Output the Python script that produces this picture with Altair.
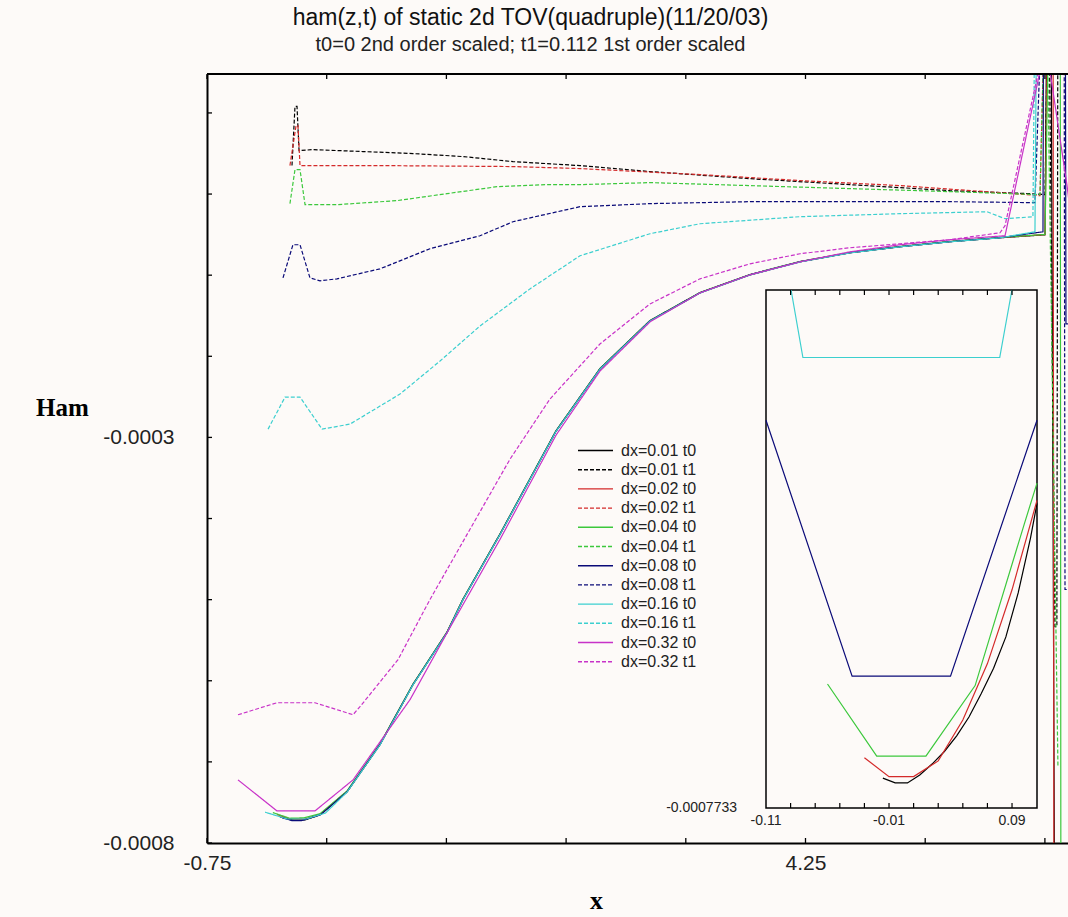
import altair as alt
import pandas as pd

TITLE = "ham(z,t) of static 2d TOV(quadruple)(11/20/03)"
SUBTITLE = "t0=0 2nd order scaled; t1=0.112 1st order scaled"
E4 = 1e-4  # y values below are given in units of 1e-4

series_names = ["dx=0.01 t0", "dx=0.01 t1", "dx=0.02 t0", "dx=0.02 t1",
                "dx=0.04 t0", "dx=0.04 t1", "dx=0.08 t0", "dx=0.08 t1",
                "dx=0.16 t0", "dx=0.16 t1", "dx=0.32 t0", "dx=0.32 t1"]
series_colors = ["#000000", "#000000", "#d42a2a", "#d42a2a", "#3cc83c", "#3cc83c",
                 "#0a0a78", "#0a0a78", "#3ccfcf", "#3ccfcf", "#c832c8", "#c832c8"]
series_dashes = [[1, 0], [4, 2]] * 6

# ---------------- main plot data ----------------
black_t0_x = [-0.140, -0.032, 0.069, 0.194, 0.420, 0.695, 0.971, 1.255, 1.389, 1.698, 1.948, 2.166, 2.533,
              2.951, 3.369, 3.786, 4.204, 4.622, 5.039, 5.457, 5.875, 6.251, 6.270, 6.300, 6.334]
black_t0_y = [-7.679, -7.716, -7.716, -7.654, -7.370, -6.789, -6.048, -5.406, -4.998, -4.195, -3.516, -2.923,
              -2.157, -1.564, -1.218, -0.996, -0.835, -0.724, -0.650, -0.588, -0.539, -0.502, 3.0, 3.0, -10.0]
black_t1_x = [-0.040, -0.015, 0.002, 0.019, 0.136, 0.553, 0.971, 1.389, 1.806, 2.366, 2.951, 3.786, 4.622,
              5.457, 6.126, 6.251, 6.280, 6.334, 6.350, 6.359]
black_t1_y = [0.351, 1.080, 1.080, 0.536, 0.548, 0.524, 0.499, 0.462, 0.400, 0.351, 0.277, 0.190, 0.116,
              0.042, 0.005, -0.007, 3.0, -5.332, -5.332, 3.0]
red_t0_x = [-0.165, -0.057, 0.069, 0.194, 0.420, 0.695, 0.971, 1.255, 1.389, 1.698, 1.948, 2.166, 2.533,
            2.951, 3.369, 3.786, 4.204, 4.622, 5.039, 5.457, 5.875, 6.251, 6.280, 6.318, 6.326]
red_t0_y = [-7.650, -7.700, -7.705, -7.645, -7.362, -6.782, -6.042, -5.400, -4.992, -4.190, -3.510, -2.918,
            -2.152, -1.560, -1.215, -0.994, -0.833, -0.722, -0.648, -0.586, -0.537, -0.500, 3.0, 3.0, -10.0]
red_t1_x = [-0.057, -0.006, 0.010, 0.027, 0.695, 1.806, 2.366, 3.369, 4.204, 5.039, 5.875, 6.209, 6.260]
red_t1_y = [0.351, 0.845, 0.845, 0.351, 0.351, 0.339, 0.314, 0.240, 0.166, 0.104, 0.017, -0.020, 3.0]
green_t0_x = [-0.200, -0.060, 0.060, 0.194, 0.420, 0.695, 0.971, 1.255, 1.389, 1.698, 1.948, 2.166, 2.533,
              2.951, 3.369, 3.786, 4.204, 4.622, 5.039, 5.457, 5.875, 6.251, 6.290, 6.378, 6.384]
green_t0_y = [-7.625, -7.695, -7.690, -7.640, -7.358, -6.778, -6.040, -5.398, -4.990, -4.188, -3.508, -2.916,
              -2.150, -1.558, -1.213, -0.992, -0.831, -0.720, -0.646, -0.584, -0.535, -0.498, 3.0, 3.0, -10.0]
green_t1_x = [-0.057, -0.015, 0.027, 0.069, 0.336, 0.838, 1.255, 1.673, 2.090, 2.366, 2.951, 3.786, 4.622,
              5.457, 6.209, 6.260, 6.359]
green_t1_y = [-0.118, 0.301, 0.301, -0.131, -0.131, -0.081, 0.005, 0.091, 0.116, 0.116, 0.141, 0.104, 0.067,
              0.030, -0.007, 3.0, -7.061]
navy_t0_x = [-0.120, -0.040, 0.040, 0.200, 0.420, 0.695, 0.971, 1.255, 1.389, 1.698, 1.948, 2.166, 2.533,
             2.951, 3.369, 3.786, 4.204, 4.622, 5.039, 5.457, 5.875, 6.234, 6.240, 6.420, 6.426, 6.443]
navy_t0_y = [-7.690, -7.724, -7.724, -7.650, -7.368, -6.786, -6.046, -5.404, -4.996, -4.193, -3.514, -2.921,
             -2.155, -1.562, -1.216, -0.995, -0.834, -0.723, -0.649, -0.587, -0.538, -0.465, 3.0, 3.0, -1.600,
             -1.600]
navy_t1_x = [-0.115, -0.032, 0.027, 0.110, 0.194, 0.336, 0.695, 1.113, 1.531, 1.806, 2.366, 2.951, 3.786,
             4.622, 5.457, 6.167, 6.240, 6.410, 6.418, 6.443]
navy_t1_y = [-1.033, -0.625, -0.625, -1.033, -1.070, -1.045, -0.922, -0.674, -0.514, -0.341, -0.156, -0.118,
             -0.094, -0.094, -0.094, -0.106, 3.0, 3.0, -4.875, -4.875]
cyan_t0_x = [-0.265, -0.080, 0.080, 0.240, 0.420, 0.695, 0.971, 1.255, 1.389, 1.698, 1.948, 2.166, 2.533,
             2.951, 3.369, 3.786, 4.204, 4.622, 5.039, 5.457, 5.875, 6.167, 6.184]
cyan_t0_y = [-7.620, -7.704, -7.704, -7.630, -7.372, -6.792, -6.050, -5.408, -5.000, -4.197, -3.518, -2.925,
             -2.159, -1.566, -1.220, -0.998, -0.837, -0.726, -0.651, -0.589, -0.540, -0.465, 3.0]
cyan_t1_x = [-0.240, -0.098, 0.027, 0.211, 0.445, 0.862, 1.197, 1.531, 1.948, 2.366, 2.951, 3.369, 4.204,
             5.039, 5.766, 5.917, 6.150, 6.170]
cyan_t1_y = [-2.898, -2.503, -2.503, -2.898, -2.836, -2.466, -2.058, -1.626, -1.169, -0.761, -0.489, -0.366,
             -0.279, -0.242, -0.218, -0.304, -0.280, 3.0]
mag_t0_x = [-0.491, -0.165, 0.152, 0.470, 0.946, 1.280, 1.698, 2.166, 2.533, 2.951, 3.369, 3.786, 4.204,
            4.622, 5.039, 5.457, 5.917, 6.209, 6.250, 6.293, 6.435, 6.460]
mag_t0_y = [-7.222, -7.605, -7.605, -7.222, -6.233, -5.344, -4.257, -2.972, -2.182, -1.576, -1.218, -0.996,
            -0.835, -0.712, -0.625, -0.563, -0.514, 1.512, 2.5, 1.512, 0.104, -0.200]
mag_t1_x = [-0.491, -0.165, 0.152, 0.470, 0.528, 0.846, 1.113, 1.447, 1.781, 2.115, 2.533, 2.951, 3.369,
            3.786, 4.204, 4.622, 5.039, 5.457, 5.875, 5.917, 6.209]
mag_t1_y = [-6.419, -6.271, -6.271, -6.419, -6.320, -5.739, -4.998, -4.133, -3.269, -2.527, -1.848, -1.354,
            -1.045, -0.860, -0.736, -0.662, -0.613, -0.563, -0.477, -0.390, 1.6]

main_x = [black_t0_x, black_t1_x, red_t0_x, red_t1_x, green_t0_x, green_t1_x,
          navy_t0_x, navy_t1_x, cyan_t0_x, cyan_t1_x, mag_t0_x, mag_t1_x]
main_y = [black_t0_y, black_t1_y, red_t0_y, red_t1_y, green_t0_y, green_t1_y,
          navy_t0_y, navy_t1_y, cyan_t0_y, cyan_t1_y, mag_t0_y, mag_t1_y]

# ---------------- inset data (t0 curves near x = 0) ----------------
in_black_x = [-0.015, -0.005, 0.005, 0.015, 0.025, 0.035, 0.045, 0.055, 0.065, 0.075, 0.085, 0.095, 0.105, 0.1103]
in_black_y = [-7.7311, -7.7314, -7.7314, -7.7309, -7.7302, -7.7294, -7.7284, -7.7272, -7.7257, -7.7241,
              -7.7221, -7.7193, -7.7158, -7.7136]
in_red_x = [-0.03, -0.01, 0.01, 0.03, 0.05, 0.07, 0.09, 0.1103]
in_red_y = [-7.7298, -7.7310, -7.7310, -7.7300, -7.7274, -7.7238, -7.7191, -7.7134]
in_green_x = [-0.06, -0.02, 0.02, 0.06, 0.10, 0.1103]
in_green_y = [-7.7251, -7.7297, -7.7297, -7.7252, -7.7149, -7.7123]
in_navy_x = [-0.11, -0.04, 0.04, 0.1103]
in_navy_y = [-7.7083, -7.7246, -7.7246, -7.7083]
in_cyan_x = [-0.0896, -0.08, 0.08, 0.0899]
in_cyan_y = [-7.7000, -7.7043, -7.7043, -7.7000]
inset_names = ["dx=0.01 t0", "dx=0.02 t0", "dx=0.04 t0", "dx=0.08 t0", "dx=0.16 t0"]
inset_x = [in_black_x, in_red_x, in_green_x, in_navy_x, in_cyan_x]
inset_y = [in_black_y, in_red_y, in_green_y, in_navy_y, in_cyan_y]

# tick values / labels
x_ticks = [-0.75, 0.25, 1.25, 2.25, 3.25, 4.25, 5.25, 6.25]
y_ticks = [-0.0008, -0.0007, -0.0006, -0.0005, -0.0004, -0.0003, -0.0002, -0.0001, 0.0, 0.0001]
inset_x_ticks = [-0.09, -0.07, -0.05, -0.03, -0.01, 0.01, 0.03, 0.05, 0.07, 0.09]
inset_x_labels = [-0.11, -0.01, 0.09]
inset_x_label_text = ["-0.11", "-0.01", "0.09"]
inset_y_label = [-0.0007733]
inset_y_label_text = ["-0.0007733"]

rows = []
for name, xs_, ys_ in zip(series_names, main_x, main_y):
    for i, (a, b) in enumerate(zip(xs_, ys_)):
        rows.append({"series": name, "i": i, "x": a, "y": b * E4})
main_df = pd.DataFrame(rows)

irows = []
for name, xs_, ys_ in zip(inset_names, inset_x, inset_y):
    for i, (a, b) in enumerate(zip(xs_, ys_)):
        irows.append({"series": name, "i": i, "xi": a, "yi": b * E4})
inset_df = pd.DataFrame(irows)

W, H = 861, 769
BG = "#fdfaf8"
FONT = "Liberation Sans"

X_DOM = [-0.75, 6.443]
Y_DOM = [-0.0008, 0.000148]


def xs():
    return alt.Scale(domain=X_DOM, nice=False, zero=False)


def ys():
    return alt.Scale(domain=Y_DOM, nice=False, zero=False)


legend = alt.Legend(title=None, orient="none", legendX=370, legendY=369, symbolType="stroke",
                    symbolSize=1225, symbolStrokeWidth=1.4, labelFontSize=16, labelFont=FONT,
                    labelColor="#222222", rowPadding=2.2, clipHeight=15, labelOffset=7, symbolLimit=20)

lines = alt.Chart(main_df).mark_line(clip=True, strokeWidth=1.2).encode(
    x=alt.X("x:Q", scale=xs(), axis=alt.Axis(
        orient="bottom", values=[-0.75, 4.25], labelExpr="datum.value > 0 ? '4.25' : '-0.75'",
        ticks=False, tickSize=0, grid=False, domainColor="#000000", domainWidth=2, labelFlush=False,
        labelFontSize=21, labelFont=FONT, labelColor="#222222", labelPadding=9,
        title="x", titleFont="Liberation Serif", titleFontSize=26, titleFontWeight="bold",
        titleColor="#000000", titleX=389, titleY=57, titleBaseline="middle", titleAlign="center")),
    y=alt.Y("y:Q", scale=ys(), axis=alt.Axis(
        orient="left", values=[-0.0003, -0.0008],
        labelExpr="datum.value < -0.0005 ? '-0.0008' : '-0.0003'",
        ticks=False, tickSize=0, grid=False, domainColor="#000000", domainWidth=2, labelFlush=False,
        labelFontSize=21, labelFont=FONT, labelColor="#222222", labelPadding=33,
        title="Ham", titleFont="Liberation Serif", titleFontSize=25, titleFontWeight="bold",
        titleColor="#000000", titleAngle=0, titleX=-145, titleY=333, titleBaseline="middle",
        titleAlign="center")),
    color=alt.Color("series:N", scale=alt.Scale(domain=series_names, range=series_colors), legend=legend),
    strokeDash=alt.StrokeDash("series:N", scale=alt.Scale(domain=series_names, range=series_dashes),
                              legend=legend),
    order="i:Q",
)

xt_df = pd.DataFrame({"x": x_ticks})
yt_df = pd.DataFrame({"y": y_ticks})
tick_bottom = alt.Chart(xt_df).mark_rule(color="#000000", strokeWidth=1.3).encode(
    x=alt.X("x:Q", scale=xs(), axis=None), y=alt.value(H), y2=alt.value(H - 5))
tick_top = alt.Chart(xt_df).mark_rule(color="#000000", strokeWidth=1.3).encode(
    x=alt.X("x:Q", scale=xs(), axis=None), y=alt.value(0), y2=alt.value(5))
tick_left = alt.Chart(yt_df).mark_rule(color="#000000", strokeWidth=1.3).encode(
    y=alt.Y("y:Q", scale=ys(), axis=None), x=alt.value(0), x2=alt.value(5))
top_border = alt.Chart(pd.DataFrame({"a": [0]})).mark_rule(color="#000000", strokeWidth=2).encode(
    x=alt.value(0), x2=alt.value(W), y=alt.value(0))

# ---------------- inset ----------------
IX0, IX1, IY0, IY1 = 559, 830, 216, 734


def xs_in():
    return alt.Scale(domain=[-0.11, 0.1103], range=[IX0, IX1], nice=False, zero=False)


def ys_in():
    return alt.Scale(domain=[-0.0007733, -0.00077], range=[IY1, IY0], nice=False, zero=False)


frame = alt.Chart(pd.DataFrame({"a": [0]})).mark_rect(fill=BG, stroke="#000000", strokeWidth=1.5).encode(
    x=alt.value(IX0), x2=alt.value(IX1), y=alt.value(IY0), y2=alt.value(IY1))

inset_lines = alt.Chart(inset_df).mark_line(strokeWidth=1.2).encode(
    x=alt.X("xi:Q", scale=xs_in(), axis=None),
    y=alt.Y("yi:Q", scale=ys_in(), axis=None),
    color=alt.Color("series:N", scale=alt.Scale(domain=series_names, range=series_colors), legend=None),
    order="i:Q",
)
ixt_df = pd.DataFrame({"xi": inset_x_ticks})
in_tick_bottom = alt.Chart(ixt_df).mark_rule(color="#000000", strokeWidth=1.2).encode(
    x=alt.X("xi:Q", scale=xs_in(), axis=None), y=alt.value(IY1), y2=alt.value(IY1 - 5))
in_tick_top = alt.Chart(ixt_df).mark_rule(color="#000000", strokeWidth=1.2).encode(
    x=alt.X("xi:Q", scale=xs_in(), axis=None), y=alt.value(IY0), y2=alt.value(IY0 + 5))
ixl_df = pd.DataFrame({"xi": inset_x_labels, "t": inset_x_label_text})
in_xlabels = alt.Chart(ixl_df).mark_text(fontSize=14, font=FONT, color="#222222", baseline="top").encode(
    x=alt.X("xi:Q", scale=xs_in(), axis=None), y=alt.value(IY1 + 6), text="t:N")
iyl_df = pd.DataFrame({"yi": inset_y_label, "t": inset_y_label_text})
in_ylabel = alt.Chart(iyl_df).mark_text(fontSize=14, font=FONT, color="#222222", align="right",
                                        baseline="middle").encode(
    y=alt.Y("yi:Q", scale=ys_in(), axis=None), x=alt.value(IX0 - 29), text="t:N")

chart = alt.layer(
    lines, tick_bottom, tick_top, tick_left, top_border,
    frame, inset_lines, in_tick_bottom, in_tick_top, in_xlabels, in_ylabel
).resolve_scale(
    x="independent", y="independent"
).properties(
    width=W, height=H,
    title=alt.TitleParams(text=TITLE, subtitle=SUBTITLE, anchor="middle", dx=-107, fontSize=23,
                          subtitleFontSize=20, font=FONT, subtitleFont=FONT, fontWeight="normal",
                          color="#111111", subtitleColor="#222222", offset=18, subtitlePadding=5),
    background=BG,
    padding={"left": 207, "top": 74, "right": 0, "bottom": 74},
    autosize=alt.AutoSizeParams(type="none"),
).configure_view(stroke=None)

chart.save("out.html", embed_options={"renderer": "svg", "actions": False})
